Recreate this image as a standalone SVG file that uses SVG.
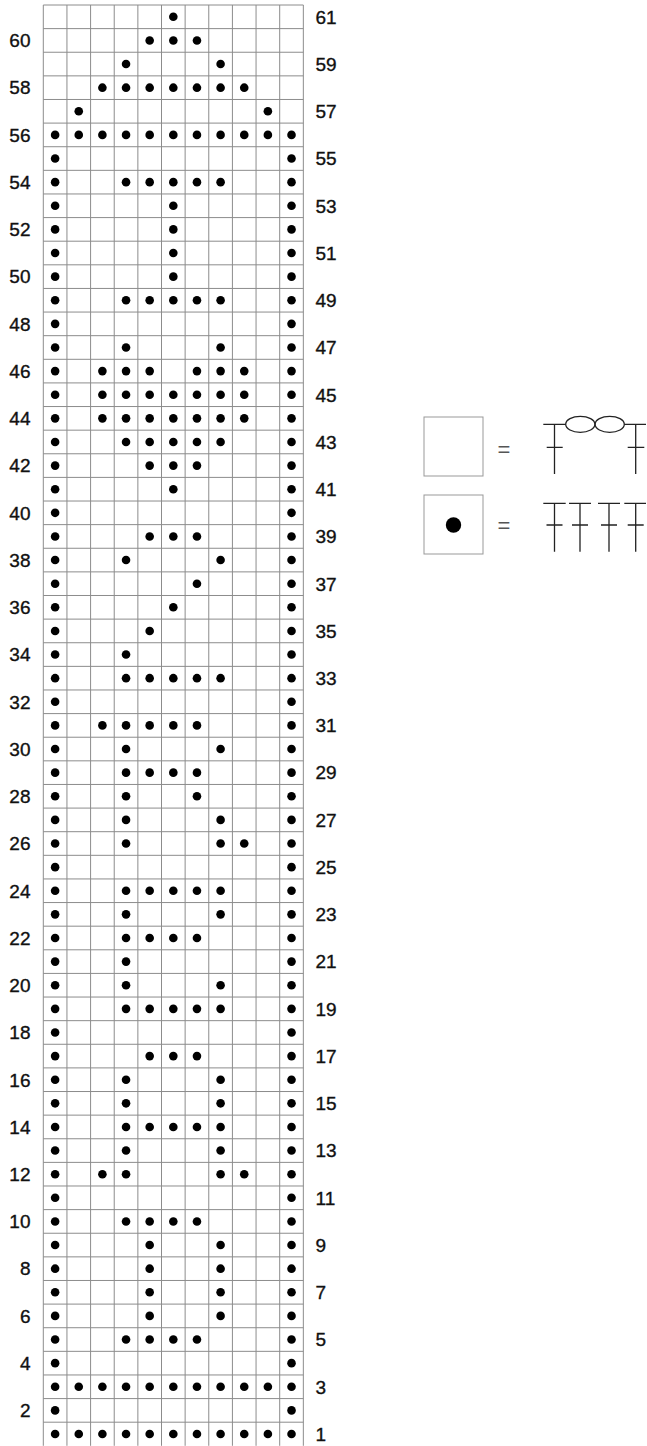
<svg xmlns="http://www.w3.org/2000/svg" xmlns:xlink="http://www.w3.org/1999/xlink" width="647" height="1446" viewBox="0 0 647 1446">
<style>
.grid{fill:none;stroke:#8c8c8c;stroke-width:1}
.lab{font-family:"Liberation Sans",Arial,sans-serif;font-size:19px;fill:#111;stroke:#111;stroke-width:0.35}
.l{text-anchor:end}
.sym{fill:none;stroke:#222;stroke-width:1.3}
.key{fill:#fff;stroke:#999;stroke-width:1}
.eq{font-family:"Liberation Sans",Arial,sans-serif;font-size:22px;fill:#555;text-anchor:middle}
</style>
<defs>
<circle id="dot" cx="0" cy="0" r="4.3" fill="#000"/>
<g id="e"><use href="#dot" x="55.12"/><use href="#dot" x="291.52"/></g>
<g id="full"><use href="#e"/><use href="#dot" x="78.76"/><use href="#dot" x="102.40"/><use href="#dot" x="126.04"/><use href="#dot" x="149.68"/><use href="#dot" x="173.32"/><use href="#dot" x="196.96"/><use href="#dot" x="220.60"/><use href="#dot" x="244.24"/><use href="#dot" x="267.88"/></g>
<g id="m48"><use href="#dot" x="126.04"/><use href="#dot" x="149.68"/><use href="#dot" x="173.32"/><use href="#dot" x="196.96"/><use href="#dot" x="220.60"/></g>
<g id="m47"><use href="#dot" x="126.04"/><use href="#dot" x="149.68"/><use href="#dot" x="173.32"/><use href="#dot" x="196.96"/></g>
<g id="m57"><use href="#dot" x="149.68"/><use href="#dot" x="173.32"/><use href="#dot" x="196.96"/></g>
</defs>
<g id="grid" class="grid">
<path d="M43.3 5V1445.8M66.94 5V1445.8M90.58 5V1445.8M114.22 5V1445.8M137.86 5V1445.8M161.5 5V1445.8M185.14 5V1445.8M208.78 5V1445.8M232.42 5V1445.8M256.06 5V1445.8M279.7 5V1445.8M303.34 5V1445.8"/>
<path d="M43.3 5h260.04m-260.04 23.62h260.04m-260.04 23.62h260.04m-260.04 23.62h260.04m-260.04 23.62h260.04m-260.04 23.62h260.04m-260.04 23.62h260.04m-260.04 23.62h260.04m-260.04 23.62h260.04m-260.04 23.62h260.04m-260.04 23.62h260.04m-260.04 23.62h260.04m-260.04 23.62h260.04m-260.04 23.62h260.04m-260.04 23.62h260.04m-260.04 23.62h260.04m-260.04 23.62h260.04m-260.04 23.62h260.04m-260.04 23.62h260.04m-260.04 23.62h260.04m-260.04 23.62h260.04m-260.04 23.62h260.04m-260.04 23.62h260.04m-260.04 23.62h260.04m-260.04 23.62h260.04m-260.04 23.62h260.04m-260.04 23.62h260.04m-260.04 23.62h260.04m-260.04 23.62h260.04m-260.04 23.62h260.04m-260.04 23.62h260.04m-260.04 23.62h260.04m-260.04 23.62h260.04m-260.04 23.62h260.04m-260.04 23.62h260.04m-260.04 23.62h260.04m-260.04 23.62h260.04m-260.04 23.62h260.04m-260.04 23.62h260.04m-260.04 23.62h260.04m-260.04 23.62h260.04m-260.04 23.62h260.04m-260.04 23.62h260.04m-260.04 23.62h260.04m-260.04 23.62h260.04m-260.04 23.62h260.04m-260.04 23.62h260.04m-260.04 23.62h260.04m-260.04 23.62h260.04m-260.04 23.62h260.04m-260.04 23.62h260.04m-260.04 23.62h260.04m-260.04 23.62h260.04m-260.04 23.62h260.04m-260.04 23.62h260.04m-260.04 23.62h260.04m-260.04 23.62h260.04m-260.04 23.62h260.04m-260.04 23.62h260.04m-260.04 23.62h260.04m-260.04 23.62h260.04"/>
</g>
<g id="rows">
<g id="r61" transform="translate(0,16.81)"><use href="#dot" x="173.32"/><text class="lab" x="315.5" y="6.8">61</text></g>
<g id="r60" transform="translate(0,40.43)"><use href="#m57"/><text class="lab l" x="30.5" y="6.8">60</text></g>
<g id="r59" transform="translate(0,64.05)"><use href="#dot" x="126.04"/><use href="#dot" x="220.60"/><text class="lab" x="315.5" y="6.8">59</text></g>
<g id="r58" transform="translate(0,87.67)"><use href="#m48"/><use href="#dot" x="102.40"/><use href="#dot" x="244.24"/><text class="lab l" x="30.5" y="6.8">58</text></g>
<g id="r57" transform="translate(0,111.29)"><use href="#dot" x="78.76"/><use href="#dot" x="267.88"/><text class="lab" x="315.5" y="6.8">57</text></g>
<g id="r56" transform="translate(0,134.91)"><use href="#full"/><text class="lab l" x="30.5" y="6.8">56</text></g>
<g id="r55" transform="translate(0,158.53)"><use href="#e"/><text class="lab" x="315.5" y="6.8">55</text></g>
<g id="r54" transform="translate(0,182.15)"><use href="#e"/><use href="#m48"/><text class="lab l" x="30.5" y="6.8">54</text></g>
<g id="r53" transform="translate(0,205.77)"><use href="#e"/><use href="#dot" x="173.32"/><text class="lab" x="315.5" y="6.8">53</text></g>
<g id="r52" transform="translate(0,229.39)"><use href="#e"/><use href="#dot" x="173.32"/><text class="lab l" x="30.5" y="6.8">52</text></g>
<g id="r51" transform="translate(0,253.01)"><use href="#e"/><use href="#dot" x="173.32"/><text class="lab" x="315.5" y="6.8">51</text></g>
<g id="r50" transform="translate(0,276.63)"><use href="#e"/><use href="#dot" x="173.32"/><text class="lab l" x="30.5" y="6.8">50</text></g>
<g id="r49" transform="translate(0,300.25)"><use href="#e"/><use href="#m48"/><text class="lab" x="315.5" y="6.8">49</text></g>
<g id="r48" transform="translate(0,323.87)"><use href="#e"/><text class="lab l" x="30.5" y="6.8">48</text></g>
<g id="r47" transform="translate(0,347.49)"><use href="#e"/><use href="#dot" x="126.04"/><use href="#dot" x="220.60"/><text class="lab" x="315.5" y="6.8">47</text></g>
<g id="r46" transform="translate(0,371.11)"><use href="#e"/><use href="#dot" x="102.40"/><use href="#dot" x="126.04"/><use href="#dot" x="149.68"/><use href="#dot" x="196.96"/><use href="#dot" x="220.60"/><use href="#dot" x="244.24"/><text class="lab l" x="30.5" y="6.8">46</text></g>
<g id="r45" transform="translate(0,394.73)"><use href="#e"/><use href="#m48"/><use href="#dot" x="102.40"/><use href="#dot" x="244.24"/><text class="lab" x="315.5" y="6.8">45</text></g>
<g id="r44" transform="translate(0,418.35)"><use href="#e"/><use href="#m48"/><use href="#dot" x="102.40"/><use href="#dot" x="244.24"/><text class="lab l" x="30.5" y="6.8">44</text></g>
<g id="r43" transform="translate(0,441.97)"><use href="#e"/><use href="#m48"/><text class="lab" x="315.5" y="6.8">43</text></g>
<g id="r42" transform="translate(0,465.59)"><use href="#e"/><use href="#m57"/><text class="lab l" x="30.5" y="6.8">42</text></g>
<g id="r41" transform="translate(0,489.21)"><use href="#e"/><use href="#dot" x="173.32"/><text class="lab" x="315.5" y="6.8">41</text></g>
<g id="r40" transform="translate(0,512.83)"><use href="#e"/><text class="lab l" x="30.5" y="6.8">40</text></g>
<g id="r39" transform="translate(0,536.45)"><use href="#e"/><use href="#m57"/><text class="lab" x="315.5" y="6.8">39</text></g>
<g id="r38" transform="translate(0,560.07)"><use href="#e"/><use href="#dot" x="126.04"/><use href="#dot" x="220.60"/><text class="lab l" x="30.5" y="6.8">38</text></g>
<g id="r37" transform="translate(0,583.69)"><use href="#e"/><use href="#dot" x="196.96"/><text class="lab" x="315.5" y="6.8">37</text></g>
<g id="r36" transform="translate(0,607.31)"><use href="#e"/><use href="#dot" x="173.32"/><text class="lab l" x="30.5" y="6.8">36</text></g>
<g id="r35" transform="translate(0,630.93)"><use href="#e"/><use href="#dot" x="149.68"/><text class="lab" x="315.5" y="6.8">35</text></g>
<g id="r34" transform="translate(0,654.55)"><use href="#e"/><use href="#dot" x="126.04"/><text class="lab l" x="30.5" y="6.8">34</text></g>
<g id="r33" transform="translate(0,678.17)"><use href="#e"/><use href="#m48"/><text class="lab" x="315.5" y="6.8">33</text></g>
<g id="r32" transform="translate(0,701.79)"><use href="#e"/><text class="lab l" x="30.5" y="6.8">32</text></g>
<g id="r31" transform="translate(0,725.41)"><use href="#e"/><use href="#m47"/><use href="#dot" x="102.40"/><text class="lab" x="315.5" y="6.8">31</text></g>
<g id="r30" transform="translate(0,749.03)"><use href="#e"/><use href="#dot" x="126.04"/><use href="#dot" x="220.60"/><text class="lab l" x="30.5" y="6.8">30</text></g>
<g id="r29" transform="translate(0,772.65)"><use href="#e"/><use href="#m47"/><text class="lab" x="315.5" y="6.8">29</text></g>
<g id="r28" transform="translate(0,796.27)"><use href="#e"/><use href="#dot" x="126.04"/><use href="#dot" x="196.96"/><text class="lab l" x="30.5" y="6.8">28</text></g>
<g id="r27" transform="translate(0,819.89)"><use href="#e"/><use href="#dot" x="126.04"/><use href="#dot" x="220.60"/><text class="lab" x="315.5" y="6.8">27</text></g>
<g id="r26" transform="translate(0,843.51)"><use href="#e"/><use href="#dot" x="126.04"/><use href="#dot" x="220.60"/><use href="#dot" x="244.24"/><text class="lab l" x="30.5" y="6.8">26</text></g>
<g id="r25" transform="translate(0,867.13)"><use href="#e"/><text class="lab" x="315.5" y="6.8">25</text></g>
<g id="r24" transform="translate(0,890.75)"><use href="#e"/><use href="#m48"/><text class="lab l" x="30.5" y="6.8">24</text></g>
<g id="r23" transform="translate(0,914.37)"><use href="#e"/><use href="#dot" x="126.04"/><use href="#dot" x="220.60"/><text class="lab" x="315.5" y="6.8">23</text></g>
<g id="r22" transform="translate(0,937.99)"><use href="#e"/><use href="#m47"/><text class="lab l" x="30.5" y="6.8">22</text></g>
<g id="r21" transform="translate(0,961.61)"><use href="#e"/><use href="#dot" x="126.04"/><text class="lab" x="315.5" y="6.8">21</text></g>
<g id="r20" transform="translate(0,985.23)"><use href="#e"/><use href="#dot" x="126.04"/><use href="#dot" x="220.60"/><text class="lab l" x="30.5" y="6.8">20</text></g>
<g id="r19" transform="translate(0,1008.85)"><use href="#e"/><use href="#m48"/><text class="lab" x="315.5" y="6.8">19</text></g>
<g id="r18" transform="translate(0,1032.47)"><use href="#e"/><text class="lab l" x="30.5" y="6.8">18</text></g>
<g id="r17" transform="translate(0,1056.09)"><use href="#e"/><use href="#m57"/><text class="lab" x="315.5" y="6.8">17</text></g>
<g id="r16" transform="translate(0,1079.71)"><use href="#e"/><use href="#dot" x="126.04"/><use href="#dot" x="220.60"/><text class="lab l" x="30.5" y="6.8">16</text></g>
<g id="r15" transform="translate(0,1103.33)"><use href="#e"/><use href="#dot" x="126.04"/><use href="#dot" x="220.60"/><text class="lab" x="315.5" y="6.8">15</text></g>
<g id="r14" transform="translate(0,1126.95)"><use href="#e"/><use href="#m48"/><text class="lab l" x="30.5" y="6.8">14</text></g>
<g id="r13" transform="translate(0,1150.57)"><use href="#e"/><use href="#dot" x="126.04"/><use href="#dot" x="220.60"/><text class="lab" x="315.5" y="6.8">13</text></g>
<g id="r12" transform="translate(0,1174.19)"><use href="#e"/><use href="#dot" x="102.40"/><use href="#dot" x="126.04"/><use href="#dot" x="220.60"/><use href="#dot" x="244.24"/><text class="lab l" x="30.5" y="6.8">12</text></g>
<g id="r11" transform="translate(0,1197.81)"><use href="#e"/><text class="lab" x="315.5" y="6.8">11</text></g>
<g id="r10" transform="translate(0,1221.43)"><use href="#e"/><use href="#m47"/><text class="lab l" x="30.5" y="6.8">10</text></g>
<g id="r9" transform="translate(0,1245.05)"><use href="#e"/><use href="#dot" x="149.68"/><use href="#dot" x="220.60"/><text class="lab" x="315.5" y="6.8">9</text></g>
<g id="r8" transform="translate(0,1268.67)"><use href="#e"/><use href="#dot" x="149.68"/><use href="#dot" x="220.60"/><text class="lab l" x="30.5" y="6.8">8</text></g>
<g id="r7" transform="translate(0,1292.29)"><use href="#e"/><use href="#dot" x="149.68"/><use href="#dot" x="220.60"/><text class="lab" x="315.5" y="6.8">7</text></g>
<g id="r6" transform="translate(0,1315.91)"><use href="#e"/><use href="#dot" x="149.68"/><use href="#dot" x="220.60"/><text class="lab l" x="30.5" y="6.8">6</text></g>
<g id="r5" transform="translate(0,1339.53)"><use href="#e"/><use href="#m47"/><text class="lab" x="315.5" y="6.8">5</text></g>
<g id="r4" transform="translate(0,1363.15)"><use href="#e"/><text class="lab l" x="30.5" y="6.8">4</text></g>
<g id="r3" transform="translate(0,1386.77)"><use href="#full"/><text class="lab" x="315.5" y="6.8">3</text></g>
<g id="r2" transform="translate(0,1410.39)"><use href="#e"/><text class="lab l" x="30.5" y="6.8">2</text></g>
<g id="r1" transform="translate(0,1434.01)"><use href="#full"/><text class="lab" x="315.5" y="6.8">1</text></g>
</g>
<g id="legend-chain">
<rect class="key" x="424" y="417" width="59" height="59"/>
<text class="eq" x="504" y="457">=</text>
<path class="sym" d="M543.3 424.3H565.7M554.5 424.3V474M546.7 447.3H562.7M624.3 424.3H646M635.7 424.3V474M627.7 447.3H644.3"/>
<ellipse class="sym" cx="580.3" cy="424.3" rx="14.6" ry="8"/>
<ellipse class="sym" cx="609.7" cy="424.3" rx="14.6" ry="8"/>
</g>
<g id="legend-dc">
<rect class="key" x="424" y="495" width="59" height="59"/>
<circle cx="453.5" cy="525" r="7.7" fill="#000"/>
<text class="eq" x="504" y="533">=</text>
<path class="sym" d="M543.3 503.3H565.7M554.5 503.3V551.7M546.5 525H562.5M569 503.3H591M580 503.3V551.7M572 525H588M598 503.3H620M609 503.3V551.7M601 525H617M624.3 503.3H646M635.7 503.3V551.7M627.7 525H643.7"/>
</g>
</svg>
